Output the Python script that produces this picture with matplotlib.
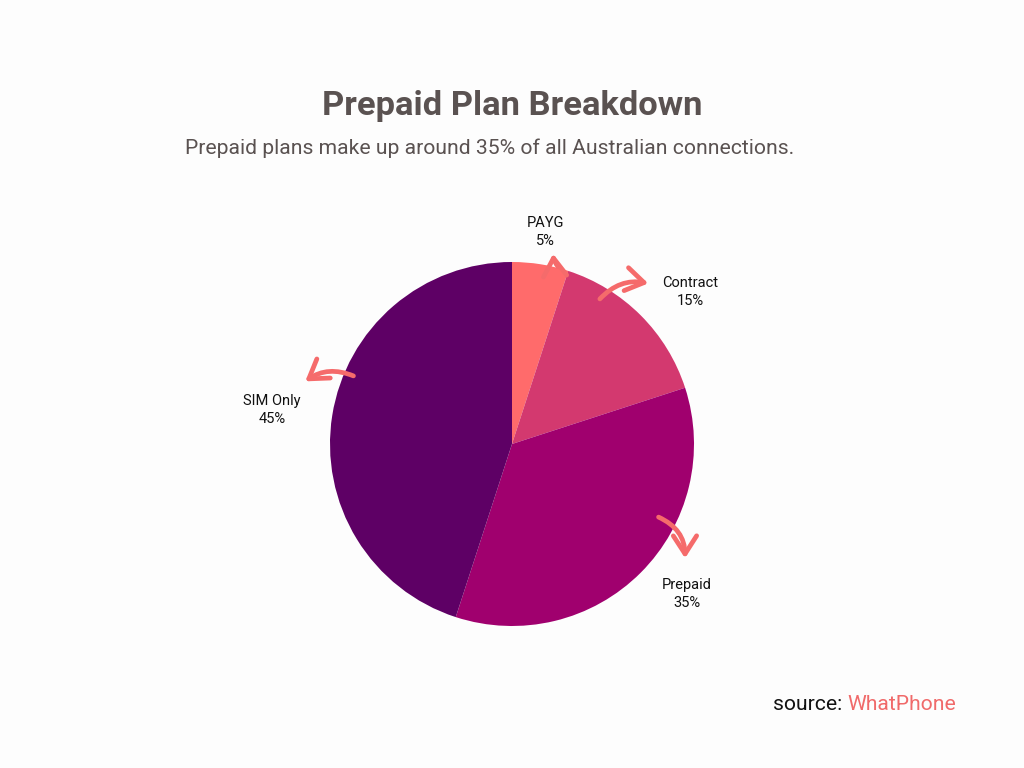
import matplotlib
matplotlib.use("Agg")
import matplotlib.pyplot as plt
from matplotlib.patches import FancyArrowPatch

plt.rcParams["font.family"] = ["Roboto", "DejaVu Sans"]

labels = ["PAYG", "Contract", "Prepaid", "SIM Only"]
shares = [5, 15, 35, 45]
colors = ["#FF6B6B", "#D3396F", "#A0006E", "#5E0065"]

# label text positions and arrow (start, end) in pixel space, y measured from top
label_pos = [(545, 232), (690, 292), (687, 594), (272, 410)]
arrows = [((560, 269), (553, 251), -0.2),
          ((598, 301), (651, 284), -0.3),
          ((656, 516), (685, 561), -0.35),
          ((356, 377), (303, 383), 0.3)]
ARROW = "#F56B6B"
W, H = 1024, 768

fig = plt.figure(figsize=(10.24, 7.68), dpi=100, facecolor="#FDFDFD")
ax = fig.add_axes([0, 0, 1, 1])

ax.pie(shares, colors=colors, startangle=90, counterclock=False,
       center=(512, H - 444), radius=182, frame=True)
ax.set_xlim(0, W)
ax.set_ylim(0, H)
ax.set_aspect("equal")
ax.axis("off")

for lab, v, (x, y) in zip(labels, shares, label_pos):
    ax.text(x, H - y, f"{lab}\n{v}%", ha="center", va="center",
            fontsize=10.5, color="#111111", linespacing=1.45)

for (x0, y0), (x1, y1), rad in arrows:
    ax.add_patch(FancyArrowPatch((x0, H - y0), (x1, H - y1),
                                 connectionstyle=f"arc3,rad={rad}",
                                 arrowstyle="->,head_length=0.65,head_width=0.42",
                                 color=ARROW, lw=3.4, capstyle="round",
                                 joinstyle="round", mutation_scale=20))

fig.text(0.5, 1 - 106 / H, "Prepaid Plan Breakdown", ha="center", va="center",
         fontsize=24.8, fontweight="bold", color="#5A5251")
fig.text(490 / W, 1 - 148 / H, "Prepaid plans make up around 35% of all Australian connections.",
         ha="center", va="center", fontsize=15.2, color="#5A5251")

t = fig.text(773 / W, 1 - 704 / H, "source: ", ha="left", va="center",
             fontsize=15.2, color="#111111")
fig.canvas.draw()
bb = t.get_window_extent()
fig.text(bb.x1 / W, 1 - 704 / H, "WhatPhone", ha="left", va="center",
         fontsize=15.2, color="#F06A6A")

fig.savefig("out.png", dpi=100, facecolor=fig.get_facecolor())
